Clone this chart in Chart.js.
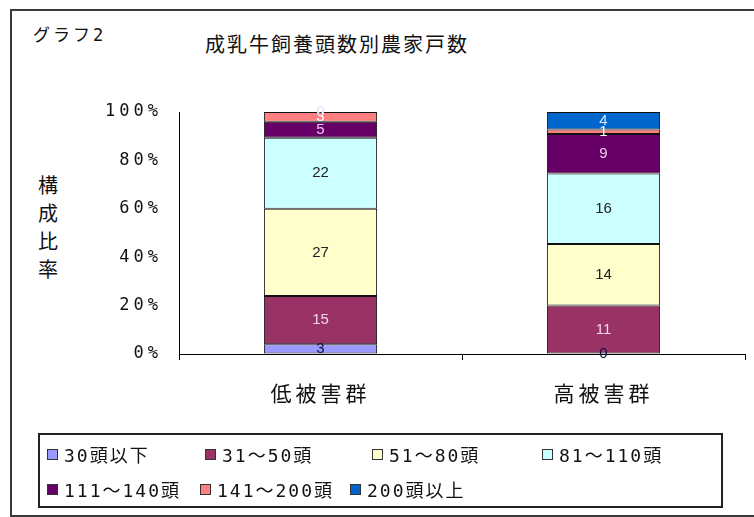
<!DOCTYPE html>
<html lang="ja">
<head>
<meta charset="utf-8">
<title>成乳牛飼養頭数別農家戸数</title>
<script src="https://cdn.jsdelivr.net/npm/chart.js@4.4.1/dist/chart.umd.min.js"></script>
<style>
  body { margin: 0; background: #fff; font-family: "DejaVu Sans Mono", "Noto Sans CJK JP", sans-serif; color: #111; }
  #wrap { position: relative; width: 754px; height: 517px; overflow: hidden; }
  #frame { position: absolute; left: 10px; top: 9px; width: 760px; height: 504px; border: 2px solid #3a3a3a; }
  #chart { position: absolute; left: 0; top: 0; }
  .txt { position: absolute; white-space: nowrap; }
  #label-no { left: 33px; top: 21px; font-size: 17px; letter-spacing: 3px; }
  #title { left: 205px; top: 29px; font-size: 20px; letter-spacing: 2px; font-family: "Noto Sans CJK JP", sans-serif; }
  #ytitle { left: 38px; top: 171px; font-size: 20px; line-height: 28px; font-family: "Noto Sans CJK JP", sans-serif; }
  #legend { position: absolute; left: 38px; top: 433px; width: 681px; height: 71px; border: 2px solid #222; }
  .item { position: absolute; display: flex; align-items: center; font-size: 18px; letter-spacing: 2px; white-space: nowrap; }
  .swatch { width: 9px; height: 9px; border: 1px solid #333; margin-right: 6px; }
</style>
</head>
<body>
<div id="wrap">
  <div id="frame"></div>
  <div id="label-no" class="txt">グラフ2</div>
  <div id="title" class="txt">成乳牛飼養頭数別農家戸数</div>
  <div id="ytitle" class="txt">構<br>成<br>比<br>率</div>
  <canvas id="chart" width="754" height="517"></canvas>
  <div id="legend"></div>
</div>
<script>
// categories and herd-size classes
const groups = ["低被害群", "高被害群"];
const herdSizes = ["30頭以下", "31〜50頭", "51〜80頭", "81〜110頭", "111〜140頭", "141〜200頭", "200頭以上"];

// number of farms per herd-size class
const lowDamage = [3, 15, 27, 22, 5, 3, 0];
const highDamage = [0, 11, 14, 16, 9, 1, 4];

// y axis ticks (percent)
const yTicks = [0, 20, 40, 60, 80, 100];

// styles
const fills = ["#9999FF", "#993366", "#FFFFCC", "#CCFFFF", "#660066", "#FF8080", "#0066CC"];
const labelColors = ["#101040", "#f4d4f0", "#222222", "#222222", "#f0c8f0", "#ffffff", "#d8e8ff"];
const legendSpots = [[7, 19], [165, 19], [332, 19], [502, 19], [7, 54], [160, 54], [310, 54]];

const counts = [lowDamage, highDamage];
const totals = counts.map(arr => arr.reduce((a, b) => a + b, 0));

const datasets = herdSizes.map((name, i) => ({
  label: name,
  data: counts.map((arr, g) => arr[i] / totals[g] * 100),
  raw: counts.map(arr => arr[i]),
  backgroundColor: fills[i],
  borderColor: "#111",
  borderWidth: 1,
  borderSkipped: false,
  categoryPercentage: 1,
  barPercentage: 0.4
}));

const spacing = {
  id: "spacing",
  beforeDraw(chart) {
    chart.ctx.letterSpacing = "4px";
  }
};

const valueLabels = {
  id: "valueLabels",
  afterDatasetsDraw(chart) {
    const ctx = chart.ctx;
    ctx.save();
    ctx.letterSpacing = "0px";
    ctx.font = "15px 'Liberation Sans', Arial, sans-serif";
    ctx.textAlign = "center";
    ctx.textBaseline = "middle";
    chart.data.datasets.forEach((ds, i) => {
      chart.getDatasetMeta(i).data.forEach((bar, g) => {
        ctx.fillStyle = labelColors[i];
        ctx.fillText(String(ds.raw[g]), bar.x, (bar.y + bar.base) / 2);
      });
    });
    ctx.restore();
  }
};

new Chart(document.getElementById("chart"), {
  type: "bar",
  data: { labels: groups, datasets },
  options: {
    responsive: false,
    animation: false,
    layout: { padding: { top: 112, right: 9, left: 0, bottom: 0 } },
    plugins: {
      legend: { display: false },
      tooltip: { enabled: false }
    },
    scales: {
      x: {
        stacked: true,
        afterFit: scale => { scale.height = 163; },
        grid: { display: true, drawOnChartArea: false, drawTicks: true, tickLength: 6, color: "#000", offset: true },
        border: { display: true, color: "#000", width: 1 },
        ticks: {
          color: "#111",
          padding: 20,
          font: { family: "'Noto Sans CJK JP', sans-serif", size: 21 }
        }
      },
      y: {
        stacked: true,
        min: 0,
        max: 100,
        afterFit: scale => { scale.width = 179; },
        afterBuildTicks: scale => { scale.ticks = yTicks.map(v => ({ value: v })); },
        grid: { display: true, drawOnChartArea: false, drawTicks: false },
        border: { display: true, color: "#000", width: 1 },
        ticks: {
          color: "#111",
          padding: 17,
          font: { family: "'DejaVu Sans Mono', monospace", size: 17 },
          callback: v => v + "%"
        }
      }
    }
  },
  plugins: [spacing, valueLabels]
});

// legend box
const legend = document.getElementById("legend");
herdSizes.forEach((name, i) => {
  const item = document.createElement("div");
  item.className = "item";
  item.style.left = legendSpots[i][0] + "px";
  item.style.top = (legendSpots[i][1] - 13) + "px";
  item.innerHTML = `<span class="swatch" style="background:${fills[i]}"></span><span>${name}</span>`;
  legend.appendChild(item);
});
</script>
</body>
</html>
